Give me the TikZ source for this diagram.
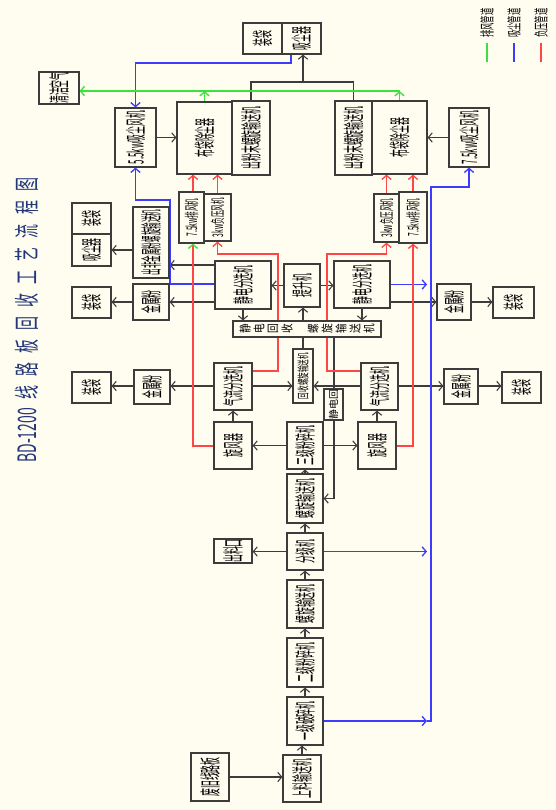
\documentclass[tikz,border=0pt]{standalone}
\usepackage{graphicx}
\usepackage{fontspec}
\setmainfont{Noto Sans CJK SC}
\usetikzlibrary{arrows.meta}
\definecolor{bg}{RGB}{255,252,240}
\definecolor{ln}{RGB}{60,60,60}
\definecolor{bl}{RGB}{60,60,255}
\definecolor{rd}{RGB}{255,70,70}
\definecolor{gn}{RGB}{60,225,60}
\definecolor{tt}{RGB}{35,55,120}
\newcommand\rt[2][0.37]{\rotatebox{90}{\scalebox{#1}[1]{#2}}}
\newcommand\gl[1]{\makebox[10.5pt]{\rotatebox{90}{\scalebox{0.8}[1]{#1}}}}
\newcommand\tg[1]{\makebox[17.3pt]{\scalebox{0.55}[1]{#1}}}
\newcommand\mybox[7][]{\node[box,minimum width={(#4-#2)*0.75pt},minimum height={(#5-#3)*0.75pt},#1] (#6) at ({(#2+#4)/2},{(#3+#5)/2}) {#7};}
\pgfdeclarelayer{back}
\pgfdeclarelayer{lines}
\pgfsetlayers{back,lines,main}
\tikzset{
  box/.style={draw=ln, line width=0.9pt, fill=bg, inner sep=0pt, font=\fontsize{16}{17}\selectfont},
  sm/.style={font=\fontsize{11}{12}\selectfont},
  xs/.style={font=\fontsize{9}{10}\selectfont},
  ar/.style={-{Straight Barb[length=3pt,width=7pt]}},
  con/.style={draw=ln, line width=0.8pt},
  bline/.style={draw=bl, line width=1pt},
  rline/.style={draw=rd, line width=1pt},
  gline/.style={draw=gn, line width=1pt},
}
\begin{document}
\begin{tikzpicture}[x=0.75pt,y=-0.75pt]
\begin{pgfonlayer}{back}
\fill[bg] (0,0) rectangle (556,810);
\end{pgfonlayer}
\useasboundingbox (0,0) rectangle (556,810);

% title
\node[text=tt, inner sep=0pt, font=\fontsize{19}{20}\selectfont] (title) at (27,318) {\rotatebox{90}{\scalebox{0.55}[1]{BD-1200}\hspace{3pt}\tg{线}\tg{路}\tg{板}\tg{回}\tg{收}\tg{工}\tg{艺}\tg{流}\tg{程}\tg{图}}};

% legend
\node[inner sep=0pt, font=\fontsize{11}{12}\selectfont] (lg1) at (487,23) {\rt[0.5]{排风管道}};
\node[inner sep=0pt, font=\fontsize{11}{12}\selectfont] (lg2) at (514,23) {\rt[0.5]{吸尘管道}};
\node[inner sep=0pt, font=\fontsize{11}{12}\selectfont] (lg3) at (541,23) {\rt[0.5]{负压管道}};

% boxes
\mybox{243}{23}{282}{54}{zd0}{\rt{装袋}}
\mybox{282}{23}{321}{54}{xcq0}{\rt{吸尘器}}
\mybox{39}{72}{79}{104}{qjkq}{\rt{清洁空气}}
\mybox{115}{108}{156}{167}{f55}{\rt{5.5kw吸尘风机}}
\mybox{177}{102}{232}{174}{bd1}{\rt{布袋除尘器}}
\mybox{232}{101}{270}{175}{cf1}{\rt{出粉末螺旋输送机}}
\mybox{335}{101}{372}{175}{cf2}{\rt{出粉末螺旋输送机}}
\mybox{372}{101}{427}{174}{bd2}{\rt{布袋除尘器}}
\mybox{449}{108}{489}{167}{f75}{\rt{7.5kw吸尘风机}}
\mybox[sm]{179}{192}{204}{243}{pf1}{\rt[0.45]{7.5kw排风机}}
\mybox[sm]{204}{194}{231}{241}{fy1}{\rt[0.45]{3kw负压风机}}
\mybox[sm]{374}{194}{399}{242}{fy2}{\rt[0.45]{3kw负压风机}}
\mybox[sm]{399}{192}{427}{243}{pf2}{\rt[0.45]{7.5kw排风机}}
\mybox{72}{203}{111}{234}{zd1}{\rt{装袋}}
\mybox{72}{234}{111}{266}{xcq1}{\rt{吸尘器}}
\mybox{133}{207}{169}{278}{cfj}{\rt[0.31]{出非金属粉螺旋输送机}}
\mybox{133}{284}{169}{320}{jsf1}{\rt{金属粉}}
\mybox{72}{287}{111}{318}{zd2}{\rt{装袋}}
\mybox{215}{261}{271}{309}{jd1}{\rt{静电分选机}}
\mybox{284}{264}{320}{307}{tsj}{\rt{提升机}}
\mybox{334}{261}{390}{308}{jd2}{\rt{静电分选机}}
\mybox{437}{284}{471}{320}{jsf2}{\rt{金属粉}}
\mybox{493}{287}{534}{318}{zd3}{\rt{装袋}}
\mybox[xs]{233}{321}{381}{337}{jdhs}{\gl{静}\gl{电}\gl{回}\gl{收}\hspace{9pt}\gl{螺}\gl{旋}\gl{输}\gl{送}\gl{机}}
\mybox[xs]{293}{349}{313}{403}{hsl}{\rt[0.55]{回收螺旋输送机}}
\mybox[font=\fontsize{7.5}{8}\selectfont]{324}{389}{343}{420}{jdh}{\rotatebox{90}{静电回}}
\mybox{214}{363}{252}{410}{qf1}{\rt{气流分选机}}
\mybox{361}{363}{398}{410}{qf2}{\rt{气流分选机}}
\mybox{134}{370}{170}{404}{jsf3}{\rt{金属粉}}
\mybox{72}{372}{111}{403}{zd4}{\rt{装袋}}
\mybox{444}{369}{478}{404}{jsf4}{\rt{金属粉}}
\mybox{502}{372}{541}{403}{zd5}{\rt{装袋}}
\mybox{214}{422}{252}{469}{xf1}{\rt{旋风器}}
\mybox{358}{422}{396}{469}{xf2}{\rt{旋风器}}
\mybox{287}{422}{323}{469}{sj3}{\rt{三级粉碎机}}
\mybox{287}{474}{323}{523}{lx1}{\rt{螺旋输送机}}
\mybox{287}{533}{323}{570}{fj}{\rt{分级机}}
\mybox{214}{539}{252}{563}{ckl}{\rt{出料口}}
\mybox{287}{580}{323}{628}{lx2}{\rt{螺旋输送机}}
\mybox{287}{638}{323}{687}{ej}{\rt{二级粉碎机}}
\mybox{287}{697}{323}{745}{yj}{\rt{一级破碎机}}
\mybox{283}{755}{321}{802}{sl}{\rt{上料输送机}}
\mybox{191}{753}{229}{801}{fjb}{\rt{废旧线路板}}

% helper coordinates
\coordinate (h82) at (0,82);
\coordinate (j1) at (303,82);
\coordinate (gy) at (0,91);
\coordinate (r250) at (0,250);
\coordinate (r265) at (0,265);
\coordinate (r284) at (0,284);
\coordinate (r302) at (0,302);
\coordinate (r371) at (0,371);
\coordinate (r386) at (0,386);
\coordinate (c334) at (334,0);
\coordinate (c427) at (427,0);
\coordinate (b1) at (291,63);
\coordinate (b2) at (170,200);
\coordinate (d0) at (427,721);
\coordinate (d1) at (431,721);
\coordinate (b3) at (469,187);
\coordinate (rr1) at (278,254);
\coordinate (rr2) at (327,254);
\coordinate (pr1) at (193,446);
\coordinate (pr2) at (413,446);

\begin{pgfonlayer}{lines}
% black connectors
\draw[con] (cf1.north) |- (cf2.north |- h82) -- (cf2.north);
\draw[con,ar] (j1) -- (j1 |- xcq0.south);
\draw[con,ar] (f55.east) -- (f55.east -| bd1.west);
\draw[con,ar] (f75.west) -- (f75.west -| bd2.east);
\draw[con,ar] (jd1.west |- r265) -- (cfj.east |- r265);
\draw[con,ar] (jd1.west |- r302) -- (jsf1.east |- r302);
\draw[con,ar] (cfj.west |- r250) -- (xcq1.east |- r250);
\draw[con,ar] (jsf1.west |- r302) -- (zd2.east |- r302);
\draw[con,ar] (tsj.west) -- (tsj.west -| jd1.east);
\draw[con,ar] (tsj.east) -- (tsj.east -| jd2.west);
\draw[con,ar] (jd2.east |- r302) -- (jsf2.west |- r302);
\draw[con,ar] (jsf2.east |- r302) -- (zd3.west |- r302);
\draw[con,ar] (jd1.south) -- (jd1.south |- jdhs.north);
\draw[con,ar] (jd2.south) -- (jd2.south |- jdhs.north);
\draw[con,ar] (hsl.north) -- (hsl.north |- tsj.south);
\draw[con,ar] (jdhs.south -| c334) |- (lx1.east);
\draw[con,ar] (qf1.east |- r386) -- (hsl.west |- r386);
\draw[con,ar] (qf2.west |- r386) -- (hsl.east |- r386);
\draw[con,ar] (qf1.west |- r386) -- (jsf3.east |- r386);
\draw[con,ar] (jsf3.west |- r386) -- (zd4.east |- r386);
\draw[con,ar] (qf2.east |- r386) -- (jsf4.west |- r386);
\draw[con,ar] (jsf4.east |- r386) -- (zd5.west |- r386);
\draw[con,ar] (xf1.north) -- (xf1.north |- qf1.south);
\draw[con,ar] (xf2.north) -- (xf2.north |- qf2.south);
\draw[con,ar] (sj3.west) -- (sj3.west -| xf1.east);
\draw[con,ar] (sj3.east) -- (sj3.east -| xf2.west);
\draw[con,ar] (lx1.north) -- (sj3.south);
\draw[con,ar] (fj.north) -- (lx1.south);
\draw[con,ar] (lx2.north) -- (fj.south);
\draw[con,ar] (ej.north) -- (lx2.south);
\draw[con,ar] (yj.north) -- (ej.south);
\draw[con,ar] (sl.north) -- (sl.north |- yj.south);
\draw[con,ar] (fj.west) -- (fj.west -| ckl.east);
\draw[con,ar] (fjb.east) -- (fjb.east -| sl.west);

% blue (suction)
\draw[bline,ar] (xcq0.south -| b1) -- (b1) -| (f55.north);
\draw[bline,ar] (jd1.west |- r284) -| (b2) -| (f55.south);
\draw[bline,ar] (yj.east |- d0) -- (d0);
\draw[bline,ar] (d0) -- (d1) |- (b3) -- (b3 |- f75.south);
\draw[bline,ar] (jd2.east) -- (jd2.east -| c427);
\draw[bline,ar] (fj.east) -- (fj.east -| c427);

% red (negative pressure)
\draw[rline,ar] (pf1.north -| pr1) -- (pr1 |- bd1.south);
\draw[rline,ar] (fy1.north) -- (fy1.north |- bd1.south);
\draw[rline,ar] (fy2.north) -- (fy2.north |- bd2.south);
\draw[rline,ar] (pf2.north -| pr2) -- (pr2 |- bd2.south);
\draw[rline,-{Straight Barb[length=3pt,width=7pt,color=gn]}] (xf1.west |- pr1) -- (pr1) -- (pr1 |- pf1.south);
\draw[rline,ar] (qf1.east |- r371) -| (rr1) -| (fy1.south);
\draw[rline,ar] (qf2.west |- r371) -| (rr2) -| (fy2.south);
\draw[rline,ar] (xf2.east |- pr2) -- (pr2) -- (pr2 |- pf2.south);

% green (exhaust)
\draw[gline,ar] (bd1.north) -- (bd1.north |- gy);
\draw[gline,ar] (bd2.north) -- (bd2.north |- gy);
\draw[gline,ar] (bd2.north |- gy) -- (qjkq.east |- gy);

% legend lines
\draw[gline] (lg1.south) ++(0,5) -- ++(0,19);
\draw[bline] (lg2.south) ++(0,5) -- ++(0,19);
\draw[rline] (lg3.south) ++(0,5) -- ++(0,19);
\end{pgfonlayer}
\end{tikzpicture}
\end{document}
